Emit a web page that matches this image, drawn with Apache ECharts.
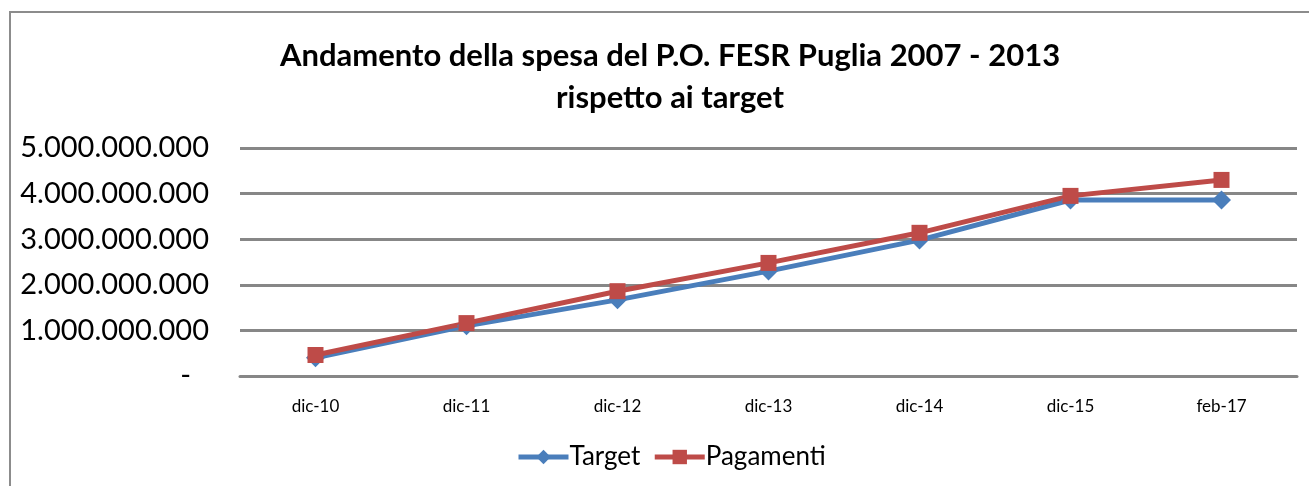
<!DOCTYPE html>
<html>
<head>
<meta charset="utf-8">
<script src="https://cdn.jsdelivr.net/npm/echarts@6/dist/echarts.min.js"></script>
<style>
  html, body { margin: 0; padding: 0; background: #fff; }
  #myChart { width: 1309px; height: 486px; }
</style>
</head>
<body>
<div id="myChart"></div>
<script>
// categorie e valori
const categories = ['dic-10', 'dic-11', 'dic-12', 'dic-13', 'dic-14', 'dic-15', 'feb-17']
const target = [400000000, 1100000000, 1670000000, 2300000000, 2980000000, 3860000000, 3860000000]
const pagamenti = [460000000, 1160000000, 1860000000, 2480000000, 3140000000, 3950000000, 4300000000]

const fontFam = 'Lato, "Open Sans", sans-serif'

function formatNum(v) {
  if (v === 0) return '{d|-}'
  return String(v).replace(/\B(?=(\d{3})+(?!\d))/g, '.')
}

const myChart = echarts.init(document.getElementById('myChart'))
const myOption = {
  animation: false,
  textStyle: { fontFamily: fontFam },
  title: {
    text: 'Andamento della spesa del P.O. FESR Puglia 2007 - 2013\nrispetto ai target',
    left: 665,
    textAlign: 'center',
    top: 30,
    textStyle: {
      fontFamily: fontFam,
      fontWeight: 'bold',
      fontSize: 31,
      lineHeight: 42,
      color: '#000'
    }
  },
  // cornice grigia del grafico
  graphic: [{
    type: 'rect',
    shape: { x: 10, y: 12, width: 1320, height: 500 },
    style: { fill: 'none', stroke: '#8c8c8c', lineWidth: 2 },
    silent: true
  }],
  legend: {
    data: ['Target', 'Pagamenti'],
    left: 511,
    top: 439,
    itemWidth: 50,
    itemHeight: 18,
    itemGap: 12,
    lineStyle: { width: 5 },
    textStyle: { fontFamily: fontFam, fontSize: 26, color: '#000', padding: [0, 0, 0, -4] }
  },
  grid: {
    left: 240,
    right: 12,
    top: 148,
    bottom: 110
  },
  xAxis: {
    type: 'category',
    data: categories,
    boundaryGap: true,
    axisLine: { show: true, lineStyle: { color: '#878787', width: 3 } },
    axisTick: { show: false },
    axisLabel: { fontFamily: fontFam, fontSize: 17, color: '#000', margin: 22 }
  },
  yAxis: {
    type: 'value',
    min: 0,
    max: 5000000000,
    interval: 1000000000,
    axisLine: { show: false },
    axisTick: { show: false },
    axisLabel: {
      fontFamily: fontFam,
      fontSize: 29,
      color: '#000',
      margin: 31,
      formatter: formatNum,
      rich: { d: { fontFamily: fontFam, fontSize: 29, color: '#000', padding: [0, 18, 0, 0] } }
    },
    splitLine: { lineStyle: { color: '#878787', width: 3 } }
  },
  series: [
    {
      name: 'Target',
      type: 'line',
      data: target,
      symbol: 'diamond',
      symbolSize: 19,
      itemStyle: { color: '#4a7ebb' },
      lineStyle: { color: '#4a7ebb', width: 5 }
    },
    {
      name: 'Pagamenti',
      type: 'line',
      data: pagamenti,
      symbol: 'rect',
      symbolSize: 16,
      itemStyle: { color: '#be4b48' },
      lineStyle: { color: '#be4b48', width: 5 }
    }
  ]
}
myChart.setOption(myOption)
</script>
</body>
</html>
